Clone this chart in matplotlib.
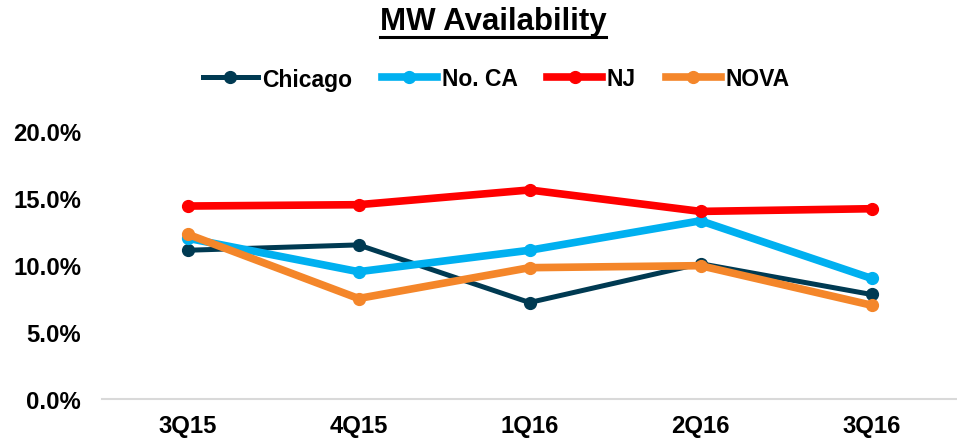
import matplotlib
matplotlib.use("Agg")
import matplotlib.pyplot as plt
from matplotlib.lines import Line2D
from matplotlib.ticker import FuncFormatter

plt.rcParams['font.family'] = ['Liberation Sans', 'DejaVu Sans']

quarters = ["3Q15", "4Q15", "1Q16", "2Q16", "3Q16"]
chicago = [11.1, 11.5, 7.2, 10.1, 7.8]
no_ca = [12.0, 9.5, 11.1, 13.3, 9.0]
nj = [14.4, 14.5, 15.6, 14.0, 14.2]
nova = [12.3, 7.5, 9.8, 9.95, 7.0]

series = [
    ("Chicago", chicago, "#003A52", 3.6),
    ("No. CA", no_ca, "#00B0F0", 5.5),
    ("NJ", nj, "#FF0000", 5.5),
    ("NOVA", nova, "#F4862A", 5.5),
]

fig = plt.figure(figsize=(9.57, 4.39), dpi=100)
ax = fig.add_axes([102/957, 1 - 400/439, 1 - 102/957, (400 - 132)/439])

x = list(range(len(quarters)))
for name, vals, color, lw in series:
    ax.plot(x, vals, color=color, lw=lw, marker='o', markersize=8.5,
            solid_capstyle='round', solid_joinstyle='round', label=name, clip_on=False)

ax.set_xlim(-0.5, len(quarters) - 0.5)
ax.set_ylim(0, 20)
ax.set_yticks([0, 5, 10, 15, 20])
ax.yaxis.set_major_formatter(FuncFormatter(lambda v, p: f"{v:.1f}%"))
ax.set_xticks(x)
ax.set_xticklabels(quarters)
for s in ["top", "left", "right"]:
    ax.spines[s].set_visible(False)
ax.spines["bottom"].set_color("#D9D9D9")
ax.spines["bottom"].set_linewidth(1.5)
ax.tick_params(axis='both', length=0, labelsize=17.2)
ax.tick_params(axis='y', pad=15)
ax.tick_params(axis='x', pad=11)
for lab in ax.get_xticklabels() + ax.get_yticklabels():
    lab.set_fontweight('bold')

title = fig.text(493/957, 1 - 22/439, "MW Availability", ha='center', va='center',
                 fontsize=22.5, fontweight='bold')
fig.canvas.draw()
bb = title.get_window_extent(renderer=fig.canvas.get_renderer())
uy = 1 - 38/439
fig.add_artist(Line2D([bb.x0/957, bb.x1/957], [uy, uy], color='black', lw=2.2,
                      transform=fig.transFigure))

handles = [Line2D([0], [0], color=c, lw=lw, marker='o', markersize=8.5) for _, _, c, lw in series]
fig.legend(handles, [s[0] for s in series], loc='center', bbox_to_anchor=(496/957, 1 - 80/439),
           ncol=4, frameon=False, handlelength=2.4, handletextpad=0.2, columnspacing=1.3,
           prop={'weight': 'bold', 'size': 16.5})

fig.savefig("out.png", dpi=100)
